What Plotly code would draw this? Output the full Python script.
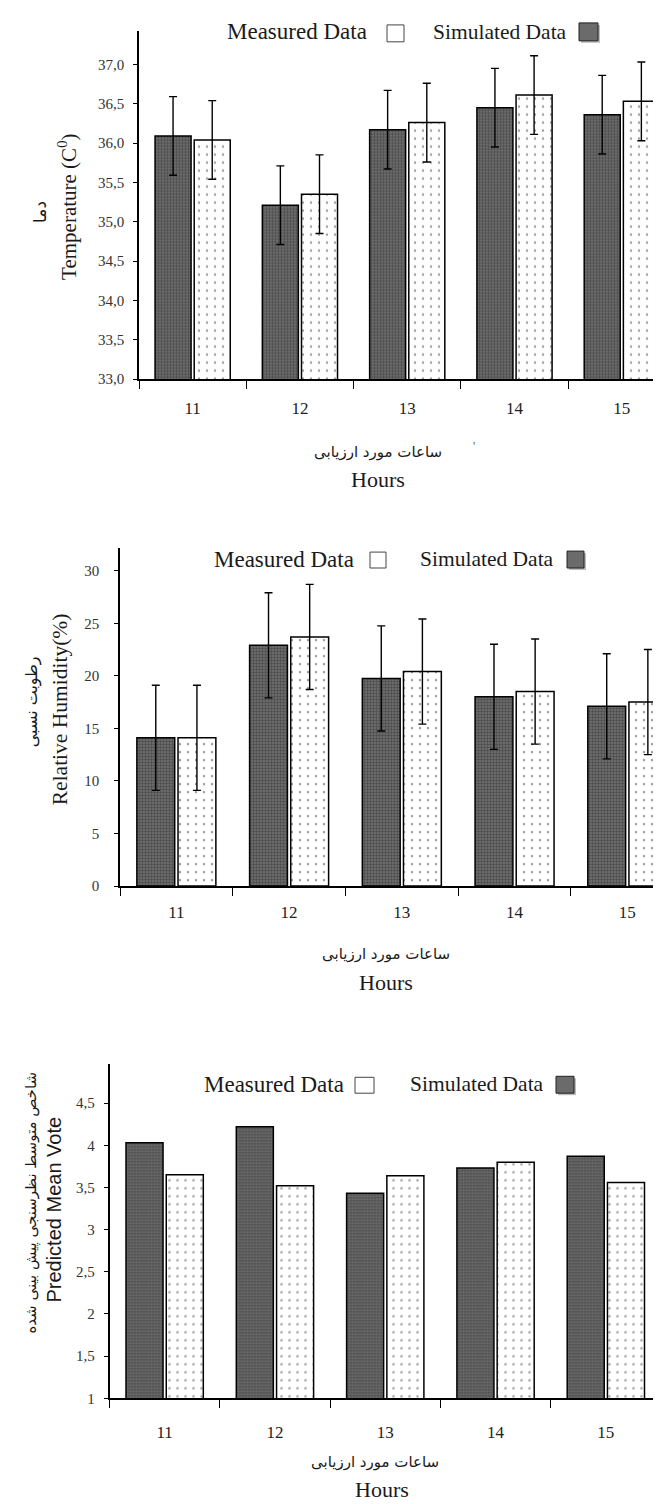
import plotly.graph_objects as go

# ---------------- data ----------------
hours = ["11", "12", "13", "14", "15"]

temp_simulated = [36.09, 35.21, 36.17, 36.45, 36.36]
temp_measured = [36.04, 35.35, 36.26, 36.61, 36.53]
temp_sim_err = [0.5, 0.5, 0.5, 0.5, 0.5]
temp_meas_err = [0.5, 0.5, 0.5, 0.5, 0.5]
temp_ticks = [33.0, 33.5, 34.0, 34.5, 35.0, 35.5, 36.0, 36.5, 37.0]
temp_ticklabels = ["33,0", "33,5", "34,0", "34,5", "35,0", "35,5", "36,0", "36,5", "37,0"]

rh_simulated = [14.1, 22.9, 19.75, 18.0, 17.1]
rh_measured = [14.1, 23.7, 20.4, 18.5, 17.5]
rh_sim_err = [5, 5, 5, 5, 5]
rh_meas_err = [5, 5, 5, 5, 5]
rh_ticks = [0, 5, 10, 15, 20, 25, 30]
rh_ticklabels = ["0", "5", "10", "15", "20", "25", "30"]

pmv_simulated = [4.03, 4.22, 3.43, 3.73, 3.87]
pmv_measured = [3.65, 3.52, 3.64, 3.80, 3.56]
pmv_ticks = [1, 1.5, 2, 2.5, 3, 3.5, 4, 4.5]
pmv_ticklabels = ["1", "1,5", "2", "2,5", "3", "3,5", "4", "4,5"]

# ---------------- layout helpers ----------------
W, H = 661, 1504


def px(x):
    return x / W


def py(y):
    return 1 - y / H


SERIF = "Liberation Serif, Times New Roman, serif"
SANS = "Liberation Sans, Arial, sans-serif"
ARABIC = "DejaVu Sans, Noto Sans, sans-serif"

dark_marker = dict(
    color="#767676",
    line=dict(color="black", width=1.5),
    pattern=dict(shape=".", fgcolor="#1f1f1f", bgcolor="#767676", size=3, solidity=0.55),
)
light_marker = dict(
    color="white",
    line=dict(color="black", width=1.5),
    pattern=dict(shape=".", fgcolor="#333333", bgcolor="white", size=8, solidity=0.07),
)
err_style = dict(type="data", visible=True, color="black", thickness=1.4, width=4)

fig = go.Figure()

panels = [
    (temp_simulated, temp_measured, temp_sim_err, temp_meas_err, "x", "y"),
    (rh_simulated, rh_measured, rh_sim_err, rh_meas_err, "x2", "y2"),
    (pmv_simulated, pmv_measured, None, None, "x3", "y3"),
]
for sim, meas, serr, merr, xa, ya in panels:
    fig.add_trace(go.Bar(
        x=hours, y=sim, name="Simulated Data", marker=dark_marker,
        error_y=dict(array=serr, **err_style) if serr else None,
        xaxis=xa, yaxis=ya, showlegend=False, offsetgroup="sim" + xa,
    ))
    fig.add_trace(go.Bar(
        x=hours, y=meas, name="Measured Data", marker=light_marker,
        error_y=dict(array=merr, **err_style) if merr else None,
        xaxis=xa, yaxis=ya, showlegend=False, offsetgroup="meas" + xa,
    ))

axis_common = dict(showline=True, linecolor="black", linewidth=1.5, showgrid=False,
                   zeroline=False, ticks="outside", tickcolor="black")

xcommon = dict(axis_common, type="category", tickson="boundaries", ticklen=8, tickwidth=1.2,
               tickfont=dict(family=SERIF, size=17, color="#222"))
ycommon = dict(axis_common, ticklen=4, tickwidth=1.2,
               tickfont=dict(family=SERIF, size=15, color="#333"))

fig.update_layout(
    width=W, height=H,
    margin=dict(l=0, r=0, t=0, b=0),
    paper_bgcolor="white", plot_bgcolor="white",
    barmode="group", bargap=0.27, bargroupgap=0.08,
    showlegend=False,
    xaxis=dict(xcommon, domain=[px(131), 1.0], range=[-0.5, 4.44], anchor="y", ticklabelstandoff=13),
    yaxis=dict(ycommon, domain=[py(373), py(22.7)], range=[33, 37.43], anchor="x",
               tickvals=temp_ticks, ticktext=temp_ticklabels, ticklabelstandoff=6),
    xaxis2=dict(xcommon, domain=[px(112), 1.0], range=[-0.5, 4.37], anchor="y2", ticklabelstandoff=10),
    yaxis2=dict(ycommon, domain=[py(882.7), py(543)], range=[0, 32.15], anchor="x2",
                tickvals=rh_ticks, ticktext=rh_ticklabels, ticklabelstandoff=12),
    xaxis3=dict(xcommon, domain=[px(101.5), px(653)], range=[-0.5, 4.5], anchor="y3", ticklabelstandoff=18),
    yaxis3=dict(ycommon, domain=[py(1397.7), py(1062)], range=[1, 4.96], anchor="x3",
                tickvals=pmv_ticks, ticktext=pmv_ticklabels, ticklabelstandoff=6),
)

annotations = []
shapes = []


def text(x, y, s, size, family=SERIF, angle=0, xanchor="center", color="#1a1a1a"):
    annotations.append(dict(x=px(x), y=py(y), xref="paper", yref="paper", text=s,
                            showarrow=False, textangle=angle, xanchor=xanchor, yanchor="middle",
                            font=dict(family=family, size=size, color=color)))


def legend(y, meas_right, meas_box, sim_right, sim_box):
    text(meas_right, y, "Measured Data", 23, xanchor="right")
    text(sim_right, y, "Simulated Data", 21.5, xanchor="right")
    x0, x1, y0, y1 = meas_box
    shapes.append(dict(type="rect", xref="paper", yref="paper", x0=px(x0), x1=px(x1),
                       y0=py(y1), y1=py(y0), line=dict(color="#444", width=1), fillcolor="white"))
    x0, x1, y0, y1 = sim_box
    shapes.append(dict(type="rect", xref="paper", yref="paper", x0=px(x0 + 2), x1=px(x1 + 2),
                       y0=py(y1 + 2), y1=py(y0 + 2), line=dict(width=0), fillcolor="#bbbbbb"))
    shapes.append(dict(type="rect", xref="paper", yref="paper", x0=px(x0), x1=px(x1),
                       y0=py(y1), y1=py(y0), line=dict(color="#222", width=1), fillcolor="#6b6b6b"))


# panel 1
legend(24, 361, (379, 396, 17, 34), 561, (571, 590, 15, 33))
text(32, 205, "دما", 17, family=ARABIC, angle=-90)
text(60, 200, "Temperature (C<sup>0</sup>)", 21, angle=-90)
text(370, 446, "ساعات مورد ارزیابی", 15, family=ARABIC)
text(370, 474, "Hours", 22)
text(466, 440, "'", 12, color="#555")

# panel 2
legend(554, 348, (362, 378, 547, 563), 548, (559, 576, 546, 563))
text(24, 698, "رطوبت نسبی", 16, family=ARABIC, angle=-90)
text(52, 705, "Relative Humidity(%)", 21.5, angle=-90)
text(378, 951, "ساعات مورد ارزیابی", 15, family=ARABIC)
text(378, 980, "Hours", 22)

# panel 3
legend(1082, 338, (347, 366, 1075, 1091), 538, (548, 566, 1074, 1091))
text(24, 1201, "شاخص متوسط نظرسنجی پیش بینی شده", 15, family=ARABIC, angle=-90)
text(46, 1208, "Predicted Mean Vote", 20, family=SANS, angle=-90)
text(367, 1462, "ساعات مورد ارزیابی", 15, family=ARABIC)
text(374, 1489, "Hours", 22)

fig.update_layout(annotations=annotations, shapes=shapes)

fig.write_html("out.html")
